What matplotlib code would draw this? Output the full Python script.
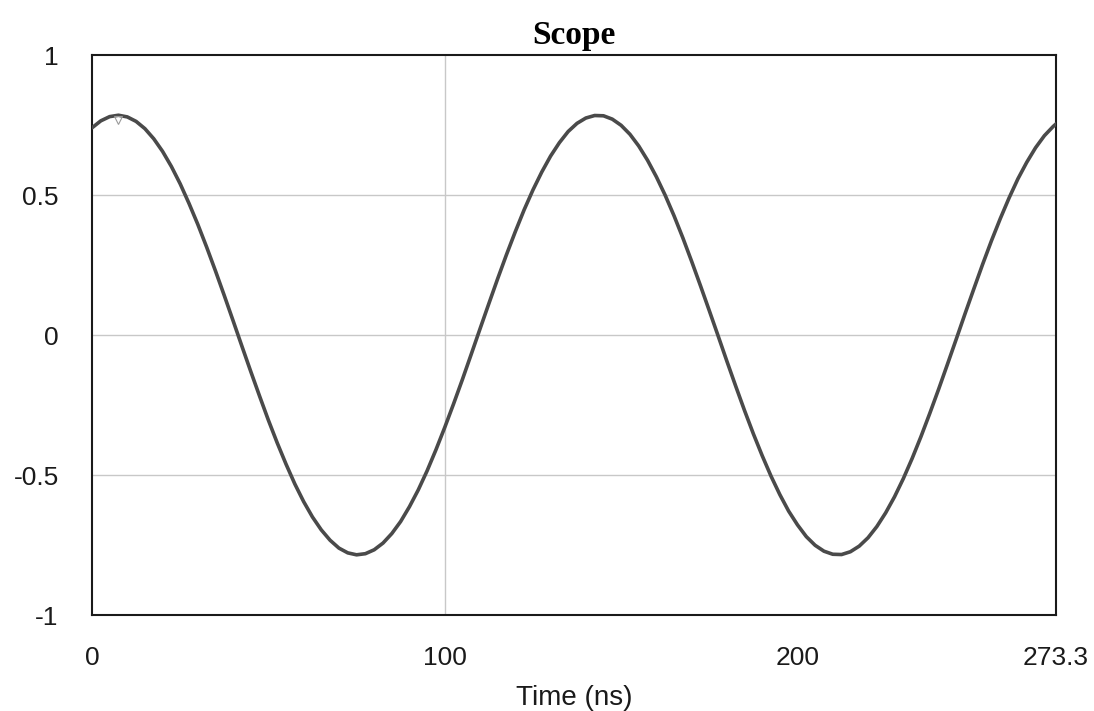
import matplotlib
matplotlib.use("Agg")
import matplotlib.pyplot as plt

# Values (time in ns, signal amplitude)
time_ns = [0, 2.5, 5, 7.5, 10, 12.5, 15, 17.5, 20, 22.5, 25, 27.5, 30, 32.5, 35,
           37.5, 40, 42.5, 45, 47.5, 50, 52.5, 55, 57.5, 60, 62.5, 65, 67.5, 70,
           72.5, 75, 77.5, 80, 82.5, 85, 87.5, 90, 92.5, 95, 97.5, 100, 102.5,
           105, 107.5, 110, 112.5, 115, 117.5, 120, 122.5, 125, 127.5, 130,
           132.5, 135, 137.5, 140, 142.5, 145, 147.5, 150, 152.5, 155, 157.5,
           160, 162.5, 165, 167.5, 170, 172.5, 175, 177.5, 180, 182.5, 185,
           187.5, 190, 192.5, 195, 197.5, 200, 202.5, 205, 207.5, 210, 212.5,
           215, 217.5, 220, 222.5, 225, 227.5, 230, 232.5, 235, 237.5, 240,
           242.5, 245, 247.5, 250, 252.5, 255, 257.5, 260, 262.5, 265, 267.5,
           270, 272.5, 273.3]
signal = [0.740, 0.765, 0.780, 0.785, 0.779, 0.763, 0.737, 0.701, 0.656, 0.602,
          0.540, 0.470, 0.395, 0.314, 0.229, 0.141, 0.051, -0.040, -0.130, -0.218,
          -0.304, -0.385, -0.461, -0.532, -0.595, -0.650, -0.696, -0.733, -0.761,
          -0.778, -0.785, -0.781, -0.767, -0.743, -0.709, -0.666, -0.613, -0.553,
          -0.485, -0.410, -0.330, -0.246, -0.159, -0.069, 0.022, 0.112, 0.201,
          0.287, 0.369, 0.447, 0.518, 0.582, 0.639, 0.687, 0.727, 0.756, 0.775,
          0.784, 0.783, 0.771, 0.749, 0.717, 0.675, 0.624, 0.565, 0.499, 0.426,
          0.347, 0.263, 0.176, 0.087, -0.003, -0.094, -0.183, -0.270, -0.353,
          -0.431, -0.504, -0.570, -0.629, -0.678, -0.720, -0.751, -0.772, -0.783,
          -0.784, -0.774, -0.754, -0.724, -0.684, -0.635, -0.578, -0.513, -0.441,
          -0.363, -0.280, -0.194, -0.105, -0.015, 0.076, 0.165, 0.253, 0.337,
          0.416, 0.490, 0.558, 0.617, 0.669, 0.712, 0.745, 0.754]
cursor_t = [7.4]
cursor_v = [0.768]

x_ticks = [0, 100, 200, 273.3]
x_tick_labels = ["0", "100", "200", "273.3"]
y_ticks = [-1, -0.5, 0, 0.5, 1]
y_tick_labels = ["-1", "-0.5", "0", "0.5", "1"]

fig = plt.figure(figsize=(10.94, 7.11), dpi=100)
ax = fig.add_axes([0.0841, 0.135, 0.8812, 0.7876])

ax.set_xlim(0, 273.3)
ax.set_ylim(-1, 1)

# grid lines (only at 100 vertically, at -0.5, 0, 0.5 horizontally)
ax.axvline(100, color="#c8c8c8", lw=1.0, zorder=1)
for yv in [-0.5, 0, 0.5]:
    ax.axhline(yv, color="#c8c8c8", lw=1.0, zorder=1)

ax.plot(time_ns, signal, color="#4a4a4a", lw=2.6, solid_joinstyle="round",
        solid_capstyle="round", zorder=3)
ax.plot(cursor_t, cursor_v, marker="v", ms=6, mfc="none", mec="#9a9a9a",
        mew=0.8, ls="none", zorder=4)

ax.set_xticks(x_ticks)
ax.set_xticklabels(x_tick_labels)
ax.set_yticks(y_ticks)
ax.set_yticklabels(y_tick_labels)
ax.tick_params(axis="both", length=0, labelsize=19, labelcolor="#1a1a1a")
ax.tick_params(axis="y", pad=24)
ax.tick_params(axis="x", pad=22)
for lab in ax.get_xticklabels() + ax.get_yticklabels():
    lab.set_fontfamily("Liberation Sans")

for sp in ax.spines.values():
    sp.set_color("#1a1a1a")
    sp.set_linewidth(1.5)

ax.set_xlabel("Time (ns)", fontsize=20, family="Liberation Sans",
              color="#1a1a1a", labelpad=11)
ax.set_title("Scope", fontsize=24, family="Liberation Serif",
             fontweight="bold", color="#000000", pad=8)

fig.savefig("out.png", dpi=100, facecolor="white")
